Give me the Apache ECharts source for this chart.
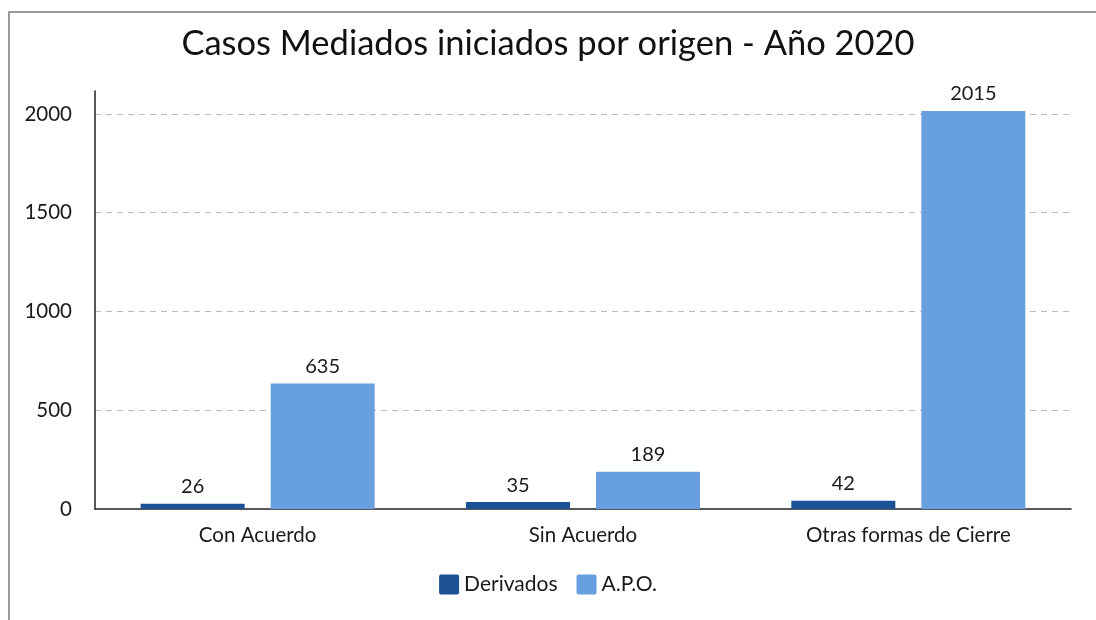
<!DOCTYPE html>
<html>
<head>
<meta charset="utf-8">
<script src="https://cdn.jsdelivr.net/npm/echarts@6/dist/echarts.min.js"></script>
<style>
    html, body { margin: 0; padding: 0; background: #fff; }
    #chart { width: 1096px; height: 620px; }
    #frame {
        position: absolute; left: 8px; top: 11px; right: -10px; bottom: -10px;
        border-left: 2px solid #9a9a9a; border-top: 2px solid #9a9a9a;
        pointer-events: none;
    }
</style>
</head>
<body>
<div id="chart"></div>
<div id="frame"></div>
<script>
    var categories = ['Con Acuerdo', 'Sin Acuerdo', 'Otras formas de Cierre'];
    var derivados = [26, 35, 42];
    var apo = [635, 189, 2015];
    var seriesNames = ['Derivados', 'A.P.O.'];

    var chart = echarts.init(document.getElementById('chart'));
    var labelStyle = {
        show: true,
        position: 'top',
        distance: 7,
        fontFamily: 'Lato',
        fontSize: 20,
        color: '#1a1a1a'
    };
    var option = {
        animation: false,
        title: {
            text: 'Casos Mediados iniciados por origen - Año 2020',
            left: 'center',
            top: 21,
            textStyle: {
                fontFamily: 'Lato',
                fontSize: 34.5,
                fontWeight: 'normal',
                color: '#111'
            }
        },
        legend: {
            bottom: 20,
            left: 'center',
            itemWidth: 20,
            itemHeight: 20,
            itemGap: 19,
            icon: 'path://M2,0 L18,0 Q20,0 20,2 L20,18 Q20,20 18,20 L2,20 Q0,20 0,18 L0,2 Q0,0 2,0 Z',
            textStyle: {
                fontFamily: 'Lato',
                fontSize: 21,
                color: '#1a1a1a'
            },
            data: seriesNames
        },
        grid: {
            left: 95,
            right: 25,
            top: 91,
            bottom: 111,
            containLabel: false
        },
        xAxis: {
            type: 'category',
            data: categories,
            axisTick: { show: false },
            axisLine: { lineStyle: { color: '#222', width: 1.5 } },
            axisLabel: {
                margin: 16,
                fontFamily: 'Lato',
                fontSize: 20.5,
                color: '#1a1a1a'
            }
        },
        yAxis: {
            type: 'value',
            min: 0,
            max: 2116,
            interval: 500,
            axisLine: { show: true, lineStyle: { color: '#222', width: 1.5 } },
            axisTick: { show: false },
            axisLabel: {
                margin: 23,
                showMaxLabel: false,
                formatter: function (v) { return String(v); },
                fontFamily: 'Lato',
                fontSize: 20.5,
                color: '#1a1a1a'
            },
            splitLine: {
                showMaxLine: false,
                showMinLine: false,
                lineStyle: { color: '#bbb', type: [6, 5], width: 1.2 }
            }
        },
        series: [{
            name: seriesNames[0],
            type: 'bar',
            data: derivados,
            barWidth: 104,
            barGap: '25%',
            itemStyle: { color: '#1c5196' },
            label: labelStyle
        }, {
            name: seriesNames[1],
            type: 'bar',
            data: apo,
            barWidth: 104,
            barGap: '25%',
            itemStyle: { color: '#689fdf' },
            label: labelStyle
        }]
    };
    chart.setOption(option);
    window.addEventListener('resize', chart.resize);
</script>
</body>
</html>
